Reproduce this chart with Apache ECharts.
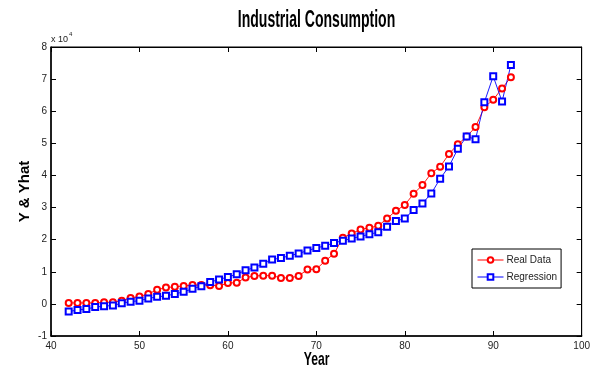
<!DOCTYPE html>
<html><head><meta charset="utf-8">
<script src="https://cdn.jsdelivr.net/npm/echarts@6/dist/echarts.min.js"></script>
<style>html,body{margin:0;padding:0;background:#fff}#c{width:593px;height:368px}</style>
</head><body><div id="c"></div>
<script>
// Year (19xx)
var years = [42,43,44,45,46,47,48,49,50,51,52,53,54,55,56,57,58,59,60,61,62,63,64,65,66,67,68,69,70,71,72,73,74,75,76,77,78,79,80,81,82,83,84,85,86,87,88,89,90,91,92];
// values in units of 10^4
var realData = [0.03,0.03,0.03,0.03,0.05,0.05,0.10,0.18,0.23,0.31,0.44,0.51,0.53,0.56,0.59,0.59,0.58,0.56,0.65,0.66,0.82,0.87,0.88,0.88,0.81,0.81,0.87,1.07,1.08,1.34,1.56,2.06,2.19,2.32,2.37,2.43,2.66,2.90,3.08,3.43,3.70,4.07,4.27,4.67,4.97,5.21,5.51,6.12,6.36,6.71,7.06];
var regression = [-0.24,-0.19,-0.16,-0.10,-0.07,-0.05,0.02,0.07,0.10,0.17,0.22,0.25,0.31,0.375,0.47,0.55,0.68,0.76,0.84,0.92,1.05,1.13,1.25,1.38,1.43,1.50,1.57,1.66,1.74,1.81,1.90,1.97,2.04,2.10,2.17,2.23,2.40,2.58,2.66,2.92,3.13,3.44,3.90,4.28,4.83,5.21,5.13,6.28,7.09,6.30,7.44];
var xTicks = [40,50,60,70,80,90,100];
var yTicks = [-1,0,1,2,3,4,5,6,7,8];

function pairs(xs, ys){ return xs.map(function(x,i){ return [x, ys[i]]; }); }

var sans = "'Liberation Sans',Arial,sans-serif";
var chart = echarts.init(document.getElementById('c'), null, {renderer:'canvas'});
chart.setOption({
  animation: false,
  backgroundColor: '#fff',
  graphic: [{
    type: 'text', x: 316.5, y: 21, scaleX: 0.61,
    style: {text: 'Industrial Consumption', font: 'bold 23px ' + sans, fill: '#000',
      textAlign: 'center', textVerticalAlign: 'middle'}
  },{
    type: 'text', x: 316.7, y: 360, scaleX: 0.64,
    style: {text: 'Year', font: 'bold 19px ' + sans, fill: '#000',
      textAlign: 'center', textVerticalAlign: 'middle'}
  },{
    type: 'text', x: 51, y: 29,
    style: {
      text: '{a|x 10}{b|4}',
      rich: {
        a: {fontFamily: sans, fontSize: 9, fill: '#222', padding:[6,0,0,0]},
        b: {fontFamily: sans, fontSize: 6, fill: '#222', padding:[0,0,5,1]}
      }
    }
  }],
  grid: {left: 51, right: 10, top: 47, bottom: 32, show: true, borderColor: '#000', borderWidth: 1},
  legend: {
    orient: 'vertical', left: 472, top: 249,
    data: ['Real Data','Regression'],
    backgroundColor: '#fff', borderColor: '#000', borderWidth: 1,
    padding: [6, 4, 6, 5], itemGap: 7, itemWidth: 26, itemHeight: 7,
    lineStyle: {width: 1},
    itemStyle: {borderWidth: 1},
    textStyle: {fontFamily: sans, fontSize: 10, color: '#222', padding:[0,0,0,-2]}
  },
  xAxis: [{
    type: 'value', min: 40, max: 100, interval: 10, position: 'bottom',
    axisLine: {onZero: false, lineStyle: {color: '#000', width: 1.5}},
    axisTick: {inside: true, length: 5, lineStyle: {color: '#000'}},
    axisLabel: {fontFamily: sans, fontSize: 10, color: '#222', margin: 5,
      formatter: function(v){ return xTicks.indexOf(v) >= 0 ? String(v) : ''; }},
    splitLine: {show: false}
  },{
    type: 'value', min: 40, max: 100, interval: 10, position: 'top',
    axisLine: {onZero: false, lineStyle: {color: '#000', width: 1}},
    axisTick: {inside: true, length: 5, lineStyle: {color: '#000'}},
    axisLabel: {show: false}, splitLine: {show: false}
  }],
  yAxis: [{
    type: 'value', min: -1, max: 8, interval: 1, position: 'left',
    name: 'Y & Yhat', nameLocation: 'middle', nameGap: 19, nameRotate: 90,
    nameMoveOverlap: false,
    nameTextStyle: {fontFamily: sans, fontWeight: 'bold', fontSize: 15, color: '#000'},
    axisLine: {onZero: false, lineStyle: {color: '#000', width: 1.5}},
    axisTick: {inside: true, length: 5, lineStyle: {color: '#000'}},
    axisLabel: {fontFamily: sans, fontSize: 10, color: '#222', margin: 4,
      formatter: function(v){ return yTicks.indexOf(v) >= 0 ? String(v) : ''; }},
    splitLine: {show: false}
  },{
    type: 'value', min: -1, max: 8, interval: 1, position: 'right',
    axisLine: {onZero: false, lineStyle: {color: '#000', width: 1}},
    axisTick: {inside: true, length: 5, lineStyle: {color: '#000'}},
    axisLabel: {show: false}, splitLine: {show: false}
  }],
  series: [{
    name: 'Real Data', type: 'line', data: pairs(years, realData),
    symbol: 'emptyCircle', symbolSize: 6,
    itemStyle: {color: '#ff0000', borderWidth: 0.8}, lineStyle: {color: '#ff0000', width: 0.9}
  },{
    name: 'Regression', type: 'line', data: pairs(years, regression),
    symbol: 'emptyRect', symbolSize: 6,
    itemStyle: {color: '#0000ff', borderWidth: 0.8}, lineStyle: {color: '#0000ff', width: 0.9}
  }]
});
</script>
</body></html>
